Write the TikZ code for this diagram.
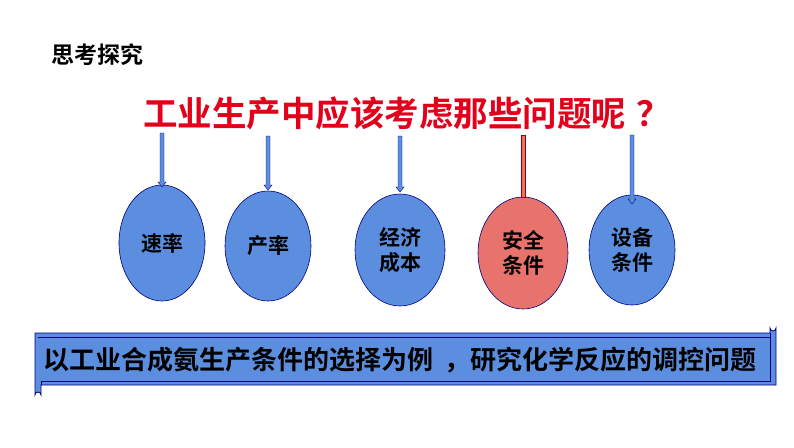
\documentclass[tikz,border=0pt]{standalone}
\usepackage{fontspec}
\newfontfamily\cjk{Noto Sans CJK SC}[BoldFont={Noto Sans CJK SC Bold}]
\begin{document}
\begin{tikzpicture}[x=1pt,y=-1pt,
  arr/.style={draw=blue!50!black,fill=bluef,line width=0.4pt},
  lab/.style={font=\cjk\bfseries\fontsize{21}{25}\selectfont,align=center}]
\definecolor{bluef}{HTML}{5B8EDF}
\definecolor{redf}{HTML}{E8736C}
\definecolor{tred}{HTML}{E3001B}
\useasboundingbox (0,0) rectangle (794,447);
\node[anchor=west,font=\cjk\bfseries\fontsize{23}{26}\selectfont] (h) at (48,55) {思考探究};
\node[font=\cjk\bfseries\fontsize{34.5}{40}\selectfont,text=tred] (t) at (407,113) {工业生产中应该考虑那些问题呢\hspace{0.3em}？};
% ellipses
\foreach \n/\x/\y/\rx/\ry/\c in {a/162/243/43/58/bluef,b/268/246/43/55/bluef,c/400/250/45/56/bluef,d/523/253/45/56/redf,e/632/250/43/55/bluef}{
  \fill[\c,draw=blue!50!black,line width=0.6pt] (\x,\y) ellipse [x radius=\rx,y radius=\ry];
  \coordinate (\n) at (\x,\y);
}
\node[lab] at (a) {速率};
\node[lab] at (b) {产率};
\node[lab] at (c) {经济\\成本};
\node[lab] at (d) {安全\\条件};
\node[lab] at (e) {设备\\条件};
% arrows
\foreach \x/\ya/\yb in {162/133/187,268/136/190,400/136/192,632/135/204}{
  \path[arr] (\x-2,\ya) -- (\x+2,\ya) -- (\x+2,\yb-5) -- (\x+4,\yb-5) -- (\x,\yb) -- (\x-4,\yb-5) -- (\x-2,\yb-5) -- cycle;
}
\path[draw=red!60!black,fill=redf,line width=0.4pt] (521,135) rectangle (525,197);
% banner
\path[draw=blue!50!black,fill=bluef,line width=0.8pt] (35,333) -- (770,333) -- (770,328) arc[start angle=180,end angle=0,radius=3] -- (776,385) -- (41,385) -- (41,395) arc[start angle=0,end angle=-180,radius=3] -- (35,340) -- cycle;
\draw[blue!50!black,line width=0.5pt] (38,337) -- (770,337) (770,333) -- (770,381) -- (41,381) -- (41,385);
\node[font=\cjk\bfseries\fontsize{26}{30}\selectfont] (s) at (400,360) {以工业合成氨生产条件的选择为例\hspace{0.4em}，研究化学反应的调控问题};
\end{tikzpicture}
\end{document}
